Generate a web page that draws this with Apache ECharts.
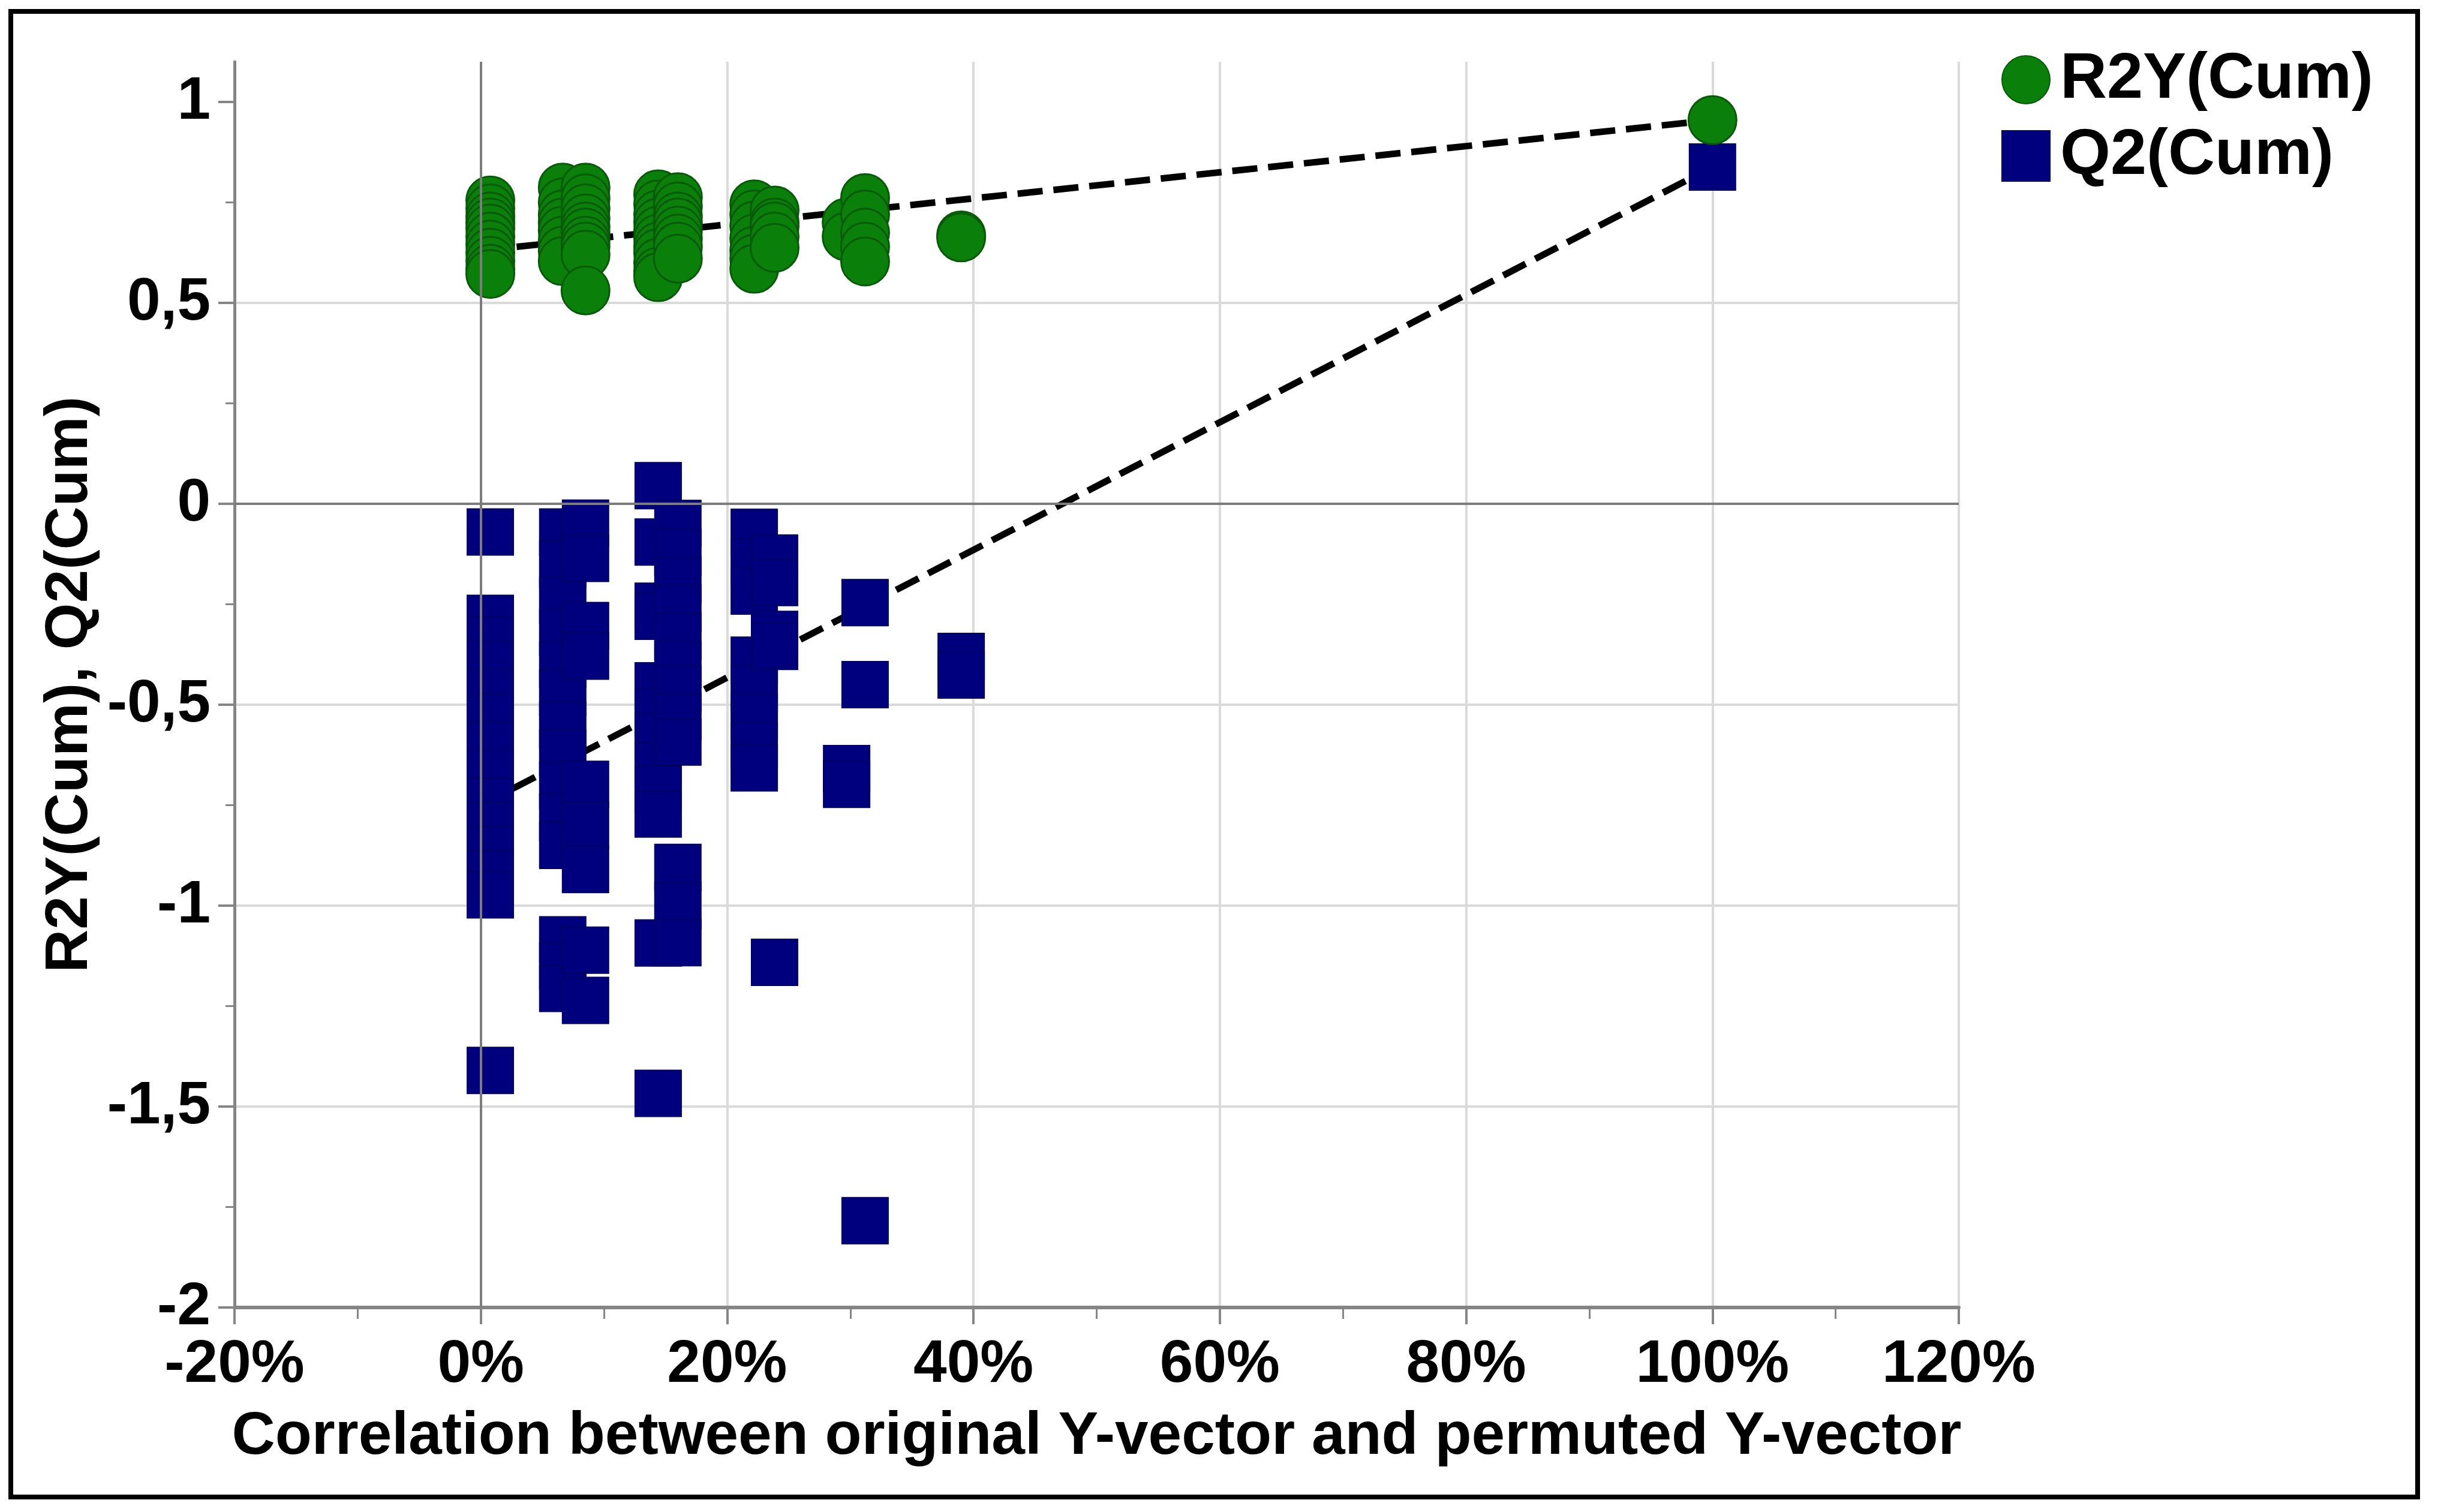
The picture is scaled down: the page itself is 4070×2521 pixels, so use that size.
<!DOCTYPE html>
<html>
<head>
<meta charset="utf-8">
<style>
  html, body { margin: 0; padding: 0; background: #ffffff; }
  #chart { width: 4070px; height: 2521px; }
</style>
<script src="https://cdn.jsdelivr.net/npm/echarts@6/dist/echarts.min.js"></script>
</head>
<body>
<div id="chart"></div>
<script>
// Correlation (%) between original and permuted Y-vector, one entry per column of points
const corrX = [0.77, 6.65, 8.5, 14.4, 16.0, 22.2, 23.85, 29.7, 31.2, 39.0, 100];

// R2Y(Cum) values per column
const r2yCols = [
  [0.755, 0.735, 0.715, 0.70, 0.685, 0.665, 0.645, 0.625, 0.605, 0.585, 0.572],
  [0.787, 0.75, 0.72, 0.70, 0.68, 0.655, 0.63, 0.604],
  [0.787, 0.76, 0.735, 0.71, 0.69, 0.675, 0.655, 0.64, 0.62, 0.531],
  [0.77, 0.745, 0.72, 0.70, 0.68, 0.66, 0.64, 0.624, 0.60, 0.578, 0.564],
  [0.763, 0.74, 0.715, 0.70, 0.68, 0.66, 0.64, 0.61],
  [0.745, 0.72, 0.692, 0.66, 0.63, 0.61, 0.585],
  [0.73, 0.70, 0.69, 0.665, 0.637],
  [0.70, 0.665],
  [0.761, 0.72, 0.675, 0.64, 0.603],
  [0.668, 0.663],
  [0.955]
];

// Q2(Cum) values per column
const q2Cols = [
  [-0.07, -0.285, -0.34, -0.40, -0.47, -0.53, -0.60, -0.67, -0.74, -0.80, -0.86, -0.92, -0.973, -1.41],
  [-0.07, -0.15, -0.24, -0.32, -0.40, -0.47, -0.55, -0.62, -0.70, -0.78, -0.85, -1.085, -1.15, -1.206],
  [-0.048, -0.136, -0.303, -0.379, -0.698, -0.80, -0.91, -1.111, -1.236],
  [0.045, -0.095, -0.255, -0.28, -0.453, -0.52, -0.58, -0.65, -0.71, -0.772, -1.093, -1.467],
  [-0.049, -0.12, -0.19, -0.26, -0.33, -0.40, -0.46, -0.53, -0.593, -0.905, -1.0, -1.092],
  [-0.071, -0.145, -0.217, -0.389, -0.46, -0.53, -0.60, -0.657],
  [-0.135, -0.196, -0.325, -0.355, -1.141],
  [-0.659, -0.698],
  [-0.246, -0.45, -1.784],
  [-0.38, -0.426],
  [0.838]
];

// Regression lines (intercept at 0% and the original model at 100%)
const r2yLine = [[0, 0.63], [100, 0.955]];
const q2Line = [[0, -0.75], [100, 0.838]];

// Axis ticks
const xTicks = [-20, 0, 20, 40, 60, 80, 100, 120];
const yTicks = [-2, -1.5, -1, -0.5, 0, 0.5, 1];
const yMinorTicks = [-1.75, -1.25, -0.75, -0.25, 0.25, 0.75];

const r2yData = [];
r2yCols.forEach((col, i) => col.forEach(v => r2yData.push([corrX[i], v])));
const q2Data = [];
q2Cols.forEach((col, i) => col.forEach(v => q2Data.push([corrX[i], v])));

const FONT = '"Liberation Sans", Arial, Helvetica, sans-serif';
const axisGray = '#858585';

const chart = echarts.init(document.getElementById('chart'), null, { renderer: 'canvas' });

chart.setOption({
  backgroundColor: '#ffffff',
  animation: false,
  textStyle: { fontFamily: FONT },
  graphic: [{
    type: 'rect',
    z: 100,
    silent: true,
    shape: { x: 18, y: 19, width: 4013, height: 2477 },
    style: { fill: 'none', stroke: '#000000', lineWidth: 8 }
  }],
  grid: { left: 391, top: 103, width: 2875, height: 2077, containLabel: false },
  legend: {
    orient: 'vertical',
    left: 3332,
    top: 74,
    itemWidth: 80,
    itemHeight: 84,
    itemGap: 19,
    textStyle: {
      fontFamily: FONT, fontWeight: 'bold', fontSize: 108, color: '#000000',
      padding: [0, 0, 0, 12]
    },
    data: ['R2Y(Cum)', 'Q2(Cum)']
  },
  xAxis: {
    type: 'value',
    min: xTicks[0],
    max: xTicks[xTicks.length - 1],
    interval: 20,
    name: 'Correlation between original Y-vector and permuted Y-vector',
    nameLocation: 'middle',
    nameGap: 166,
    nameTextStyle: { fontFamily: FONT, fontWeight: 'bold', fontSize: 100, color: '#000000' },
    axisLine: { show: true, onZero: false, lineStyle: { color: axisGray, width: 6 } },
    axisTick: { show: true, length: 28, lineStyle: { color: axisGray, width: 4 } },
    minorTick: { show: true, splitNumber: 2, length: 19, lineStyle: { color: axisGray, width: 3 } },
    axisLabel: {
      margin: 46,
      fontFamily: FONT, fontWeight: 'bold', fontSize: 100, color: '#000000',
      formatter: v => v + '%'
    },
    splitLine: { show: true, lineStyle: { color: '#dadada', width: 4 } }
  },
  yAxis: [{
    type: 'value',
    min: -2,
    max: 1.1,
    interval: 0.5,
    name: 'R2Y(Cum), Q2(Cum)',
    nameLocation: 'middle',
    nameGap: 209,
    nameTextStyle: { fontFamily: FONT, fontWeight: 'bold', fontSize: 100, color: '#000000' },
    axisLine: { show: true, onZero: false, lineStyle: { color: axisGray, width: 5 } },
    axisTick: { show: true, length: 27, customValues: yTicks, lineStyle: { color: axisGray, width: 4 } },
    axisLabel: {
      margin: 40,
      customValues: yTicks,
      fontFamily: FONT, fontWeight: 'bold', fontSize: 100, color: '#000000',
      formatter: v => String(v).replace('.', ',')
    },
    splitLine: { show: true, showMaxLine: false, lineStyle: { color: '#dadada', width: 4 } }
  }, {
    type: 'value',
    min: -2,
    max: 1.1,
    position: 'left',
    axisLine: { show: false, onZero: false },
    axisTick: { show: true, length: 15, customValues: yMinorTicks, lineStyle: { color: axisGray, width: 3 } },
    axisLabel: { show: false },
    splitLine: { show: false }
  }],
  series: [
    {
      type: 'line',
      name: 'zero-lines',
      z: 1,
      data: [],
      silent: true,
      markLine: {
        silent: true,
        symbol: 'none',
        label: { show: false },
        lineStyle: { color: '#7c7c7c', width: 4, type: 'solid' },
        data: [{ xAxis: 0 }, { yAxis: 0 }]
      }
    },
    {
      type: 'line',
      name: 'r2y-fit',
      z: 2,
      data: r2yLine,
      symbol: 'none',
      silent: true,
      lineStyle: { color: '#000000', width: 11, type: [42, 18] }
    },
    {
      type: 'line',
      name: 'q2-fit',
      z: 2,
      data: q2Line,
      symbol: 'none',
      silent: true,
      lineStyle: { color: '#000000', width: 11, type: [42, 18] }
    },
    {
      type: 'scatter',
      name: 'R2Y(Cum)',
      z: 4,
      symbol: 'circle',
      symbolSize: 80,
      data: r2yData,
      itemStyle: { color: '#0a800a', borderColor: '#075a07', borderWidth: 3, opacity: 1 }
    },
    {
      type: 'scatter',
      name: 'Q2(Cum)',
      z: 3,
      symbol: 'rect',
      symbolSize: 77,
      data: q2Data,
      itemStyle: { color: '#00007f', borderColor: '#000060', borderWidth: 2, opacity: 1 }
    }
  ]
});
</script>
</body>
</html>
